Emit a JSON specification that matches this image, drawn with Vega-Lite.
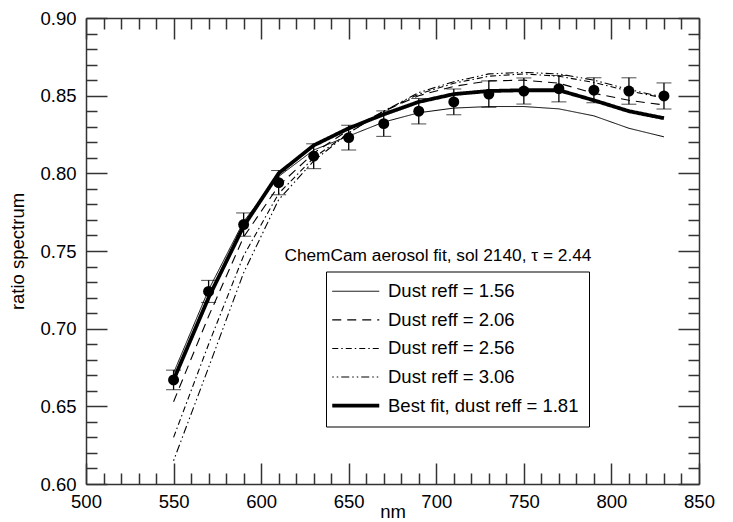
{
  "$schema": "https://vega.github.io/schema/vega-lite/v6.json",
  "width": 613,
  "height": 466,
  "autosize": {"type": "none"},
  "padding": {"left": 86, "top": 18, "right": 34, "bottom": 38},
  "background": "white",
  "config": {
    "view": {"stroke": null},
    "font": "Liberation Sans",
    "axis": {
      "grid": false,
      "domainColor": "#333",
      "domainWidth": 1.5,
      "tickColor": "#333",
      "tickWidth": 1.5,
      "labelFont": "Liberation Sans",
      "labelFontSize": 18.5,
      "labelColor": "black",
      "titleFont": "Liberation Sans",
      "titleFontSize": 18.5,
      "titleFontWeight": "normal",
      "titleColor": "black",
      "labelOverlap": false,
      "labelFlush": false,
      "labelBound": false
    },
    "legend": {
      "orient": "none",
      "legendX": 240,
      "legendY": 253.5,
      "strokeColor": "black",
      "fillColor": "white",
      "padding": 10.5,
      "symbolType": "M-4.7,0H4.7",
      "symbolSize": 100,
      "symbolOffset": 10,
      "symbolStrokeColor": "black",
      "labelFontSize": 18.5,
      "labelFont": "Liberation Sans",
      "labelColor": "black",
      "labelLimit": 400,
      "labelOffset": 23,
      "rowPadding": 9.6
    }
  },
  "title": {
    "text": "ChemCam aerosol fit, sol 2140,  τ = 2.44",
    "anchor": "end",
    "orient": "top",
    "dx": -123,
    "dy": 255,
    "offset": 0,
    "fontSize": 17.3,
    "fontWeight": "normal",
    "font": "Liberation Sans",
    "color": "black"
  },
  "datasets": {
    "curves": [
      {"nm": 550, "ratio": 0.6715, "series": "Dust reff = 1.56"},
      {"nm": 570, "ratio": 0.725, "series": "Dust reff = 1.56"},
      {"nm": 590, "ratio": 0.769, "series": "Dust reff = 1.56"},
      {"nm": 610, "ratio": 0.798, "series": "Dust reff = 1.56"},
      {"nm": 630, "ratio": 0.815, "series": "Dust reff = 1.56"},
      {"nm": 650, "ratio": 0.824, "series": "Dust reff = 1.56"},
      {"nm": 670, "ratio": 0.833, "series": "Dust reff = 1.56"},
      {"nm": 690, "ratio": 0.839, "series": "Dust reff = 1.56"},
      {"nm": 710, "ratio": 0.842, "series": "Dust reff = 1.56"},
      {"nm": 730, "ratio": 0.843, "series": "Dust reff = 1.56"},
      {"nm": 750, "ratio": 0.843, "series": "Dust reff = 1.56"},
      {"nm": 770, "ratio": 0.8415, "series": "Dust reff = 1.56"},
      {"nm": 790, "ratio": 0.837, "series": "Dust reff = 1.56"},
      {"nm": 810, "ratio": 0.829, "series": "Dust reff = 1.56"},
      {"nm": 830, "ratio": 0.8235, "series": "Dust reff = 1.56"},
      {"nm": 550, "ratio": 0.653, "series": "Dust reff = 2.06"},
      {"nm": 570, "ratio": 0.708, "series": "Dust reff = 2.06"},
      {"nm": 590, "ratio": 0.759, "series": "Dust reff = 2.06"},
      {"nm": 610, "ratio": 0.792, "series": "Dust reff = 2.06"},
      {"nm": 630, "ratio": 0.813, "series": "Dust reff = 2.06"},
      {"nm": 650, "ratio": 0.828, "series": "Dust reff = 2.06"},
      {"nm": 670, "ratio": 0.840, "series": "Dust reff = 2.06"},
      {"nm": 690, "ratio": 0.850, "series": "Dust reff = 2.06"},
      {"nm": 710, "ratio": 0.856, "series": "Dust reff = 2.06"},
      {"nm": 730, "ratio": 0.8595, "series": "Dust reff = 2.06"},
      {"nm": 750, "ratio": 0.860, "series": "Dust reff = 2.06"},
      {"nm": 770, "ratio": 0.858, "series": "Dust reff = 2.06"},
      {"nm": 790, "ratio": 0.8515, "series": "Dust reff = 2.06"},
      {"nm": 810, "ratio": 0.847, "series": "Dust reff = 2.06"},
      {"nm": 830, "ratio": 0.844, "series": "Dust reff = 2.06"},
      {"nm": 550, "ratio": 0.630, "series": "Dust reff = 2.56"},
      {"nm": 570, "ratio": 0.690, "series": "Dust reff = 2.56"},
      {"nm": 590, "ratio": 0.747, "series": "Dust reff = 2.56"},
      {"nm": 610, "ratio": 0.787, "series": "Dust reff = 2.56"},
      {"nm": 630, "ratio": 0.810, "series": "Dust reff = 2.56"},
      {"nm": 650, "ratio": 0.826, "series": "Dust reff = 2.56"},
      {"nm": 670, "ratio": 0.840, "series": "Dust reff = 2.56"},
      {"nm": 690, "ratio": 0.851, "series": "Dust reff = 2.56"},
      {"nm": 710, "ratio": 0.858, "series": "Dust reff = 2.56"},
      {"nm": 730, "ratio": 0.8625, "series": "Dust reff = 2.56"},
      {"nm": 750, "ratio": 0.864, "series": "Dust reff = 2.56"},
      {"nm": 770, "ratio": 0.8625, "series": "Dust reff = 2.56"},
      {"nm": 790, "ratio": 0.8585, "series": "Dust reff = 2.56"},
      {"nm": 810, "ratio": 0.853, "series": "Dust reff = 2.56"},
      {"nm": 830, "ratio": 0.8485, "series": "Dust reff = 2.56"},
      {"nm": 550, "ratio": 0.615, "series": "Dust reff = 3.06"},
      {"nm": 570, "ratio": 0.675, "series": "Dust reff = 3.06"},
      {"nm": 590, "ratio": 0.736, "series": "Dust reff = 3.06"},
      {"nm": 610, "ratio": 0.783, "series": "Dust reff = 3.06"},
      {"nm": 630, "ratio": 0.808, "series": "Dust reff = 3.06"},
      {"nm": 650, "ratio": 0.826, "series": "Dust reff = 3.06"},
      {"nm": 670, "ratio": 0.840, "series": "Dust reff = 3.06"},
      {"nm": 690, "ratio": 0.852, "series": "Dust reff = 3.06"},
      {"nm": 710, "ratio": 0.859, "series": "Dust reff = 3.06"},
      {"nm": 730, "ratio": 0.864, "series": "Dust reff = 3.06"},
      {"nm": 750, "ratio": 0.865, "series": "Dust reff = 3.06"},
      {"nm": 770, "ratio": 0.864, "series": "Dust reff = 3.06"},
      {"nm": 790, "ratio": 0.860, "series": "Dust reff = 3.06"},
      {"nm": 810, "ratio": 0.854, "series": "Dust reff = 3.06"},
      {"nm": 830, "ratio": 0.849, "series": "Dust reff = 3.06"},
      {"nm": 550, "ratio": 0.667, "series": "Best fit, dust reff = 1.81"},
      {"nm": 570, "ratio": 0.720, "series": "Best fit, dust reff = 1.81"},
      {"nm": 590, "ratio": 0.766, "series": "Best fit, dust reff = 1.81"},
      {"nm": 610, "ratio": 0.800, "series": "Best fit, dust reff = 1.81"},
      {"nm": 630, "ratio": 0.818, "series": "Best fit, dust reff = 1.81"},
      {"nm": 650, "ratio": 0.829, "series": "Best fit, dust reff = 1.81"},
      {"nm": 670, "ratio": 0.838, "series": "Best fit, dust reff = 1.81"},
      {"nm": 690, "ratio": 0.846, "series": "Best fit, dust reff = 1.81"},
      {"nm": 710, "ratio": 0.851, "series": "Best fit, dust reff = 1.81"},
      {"nm": 730, "ratio": 0.853, "series": "Best fit, dust reff = 1.81"},
      {"nm": 750, "ratio": 0.8535, "series": "Best fit, dust reff = 1.81"},
      {"nm": 770, "ratio": 0.8535, "series": "Best fit, dust reff = 1.81"},
      {"nm": 790, "ratio": 0.847, "series": "Best fit, dust reff = 1.81"},
      {"nm": 810, "ratio": 0.840, "series": "Best fit, dust reff = 1.81"},
      {"nm": 830, "ratio": 0.8355, "series": "Best fit, dust reff = 1.81"}
    ],
    "obs": [
      {"nm": 550, "ratio": 0.667, "lo": 0.6607, "hi": 0.6733},
      {"nm": 570, "ratio": 0.724, "lo": 0.7169, "hi": 0.7311},
      {"nm": 590, "ratio": 0.767, "lo": 0.7595, "hi": 0.7745},
      {"nm": 610, "ratio": 0.794, "lo": 0.7862, "hi": 0.8018},
      {"nm": 630, "ratio": 0.811, "lo": 0.803, "hi": 0.819},
      {"nm": 650, "ratio": 0.823, "lo": 0.815, "hi": 0.831},
      {"nm": 670, "ratio": 0.832, "lo": 0.8238, "hi": 0.8402},
      {"nm": 690, "ratio": 0.840, "lo": 0.8318, "hi": 0.8482},
      {"nm": 710, "ratio": 0.846, "lo": 0.8377, "hi": 0.8543},
      {"nm": 730, "ratio": 0.851, "lo": 0.8425, "hi": 0.8595},
      {"nm": 750, "ratio": 0.853, "lo": 0.8446, "hi": 0.8614},
      {"nm": 770, "ratio": 0.8545, "lo": 0.846, "hi": 0.863},
      {"nm": 790, "ratio": 0.8535, "lo": 0.8455, "hi": 0.8615},
      {"nm": 810, "ratio": 0.853, "lo": 0.8445, "hi": 0.8615},
      {"nm": 830, "ratio": 0.8498, "lo": 0.8414, "hi": 0.8582}
    ]
  },
  "layer": [
    {
      "data": {"name": "curves"},
      "mark": {"type": "line", "color": "black", "strokeCap": "butt"},
      "encoding": {
        "x": {
          "field": "nm", "type": "quantitative",
          "scale": {"domain": [500, 850], "nice": false, "zero": false},
          "axis": {
            "orient": "bottom",
            "title": "nm",
            "titleY": 27,
            "titleBaseline": "middle",
            "values": [500,510,520,530,540,550,560,570,580,590,600,610,620,630,640,650,660,670,680,690,700,710,720,730,740,750,760,770,780,790,800,810,820,830,840,850],
            "labelExpr": "datum.value % 50 === 0 ? format(datum.value, 'd') : ''",
            "tickSize": {"condition": {"test": "datum.value % 50 === 0", "value": -21}, "value": -11},
            "labelPadding": 29
          }
        },
        "y": {
          "field": "ratio", "type": "quantitative",
          "scale": {"domain": [0.6, 0.9], "nice": false, "zero": false},
          "axis": {
            "orient": "left",
            "title": "ratio spectrum",
            "titlePadding": 12,
            "values": [0.6,0.61,0.62,0.63,0.64,0.65,0.66,0.67,0.68,0.69,0.7,0.71,0.72,0.73,0.74,0.75,0.76,0.77,0.78,0.79,0.8,0.81,0.82,0.83,0.84,0.85,0.86,0.87,0.88,0.89,0.9],
            "labelExpr": "abs(datum.value * 20 - round(datum.value * 20)) < 0.001 ? format(datum.value, '.2f') : ''",
            "tickSize": {"condition": {"test": "abs(datum.value * 20 - round(datum.value * 20)) < 0.001", "value": -21}, "value": -11},
            "labelPadding": 31
          }
        },
        "detail": {"field": "series"},
        "strokeDash": {
          "field": "series", "type": "ordinal",
          "scale": {
            "domain": ["Dust reff = 1.56", "Dust reff = 2.06", "Dust reff = 2.56", "Dust reff = 3.06", "Best fit, dust reff = 1.81"],
            "range": [[1, 0], [9, 6], [6, 3, 1.5, 3], [1.5, 3, 1.5, 3, 8, 3], [1, 0]]
          },
          "legend": {"title": null}
        },
        "strokeWidth": {
          "field": "series", "type": "ordinal",
          "scale": {
            "type": "ordinal",
            "domain": ["Dust reff = 1.56", "Dust reff = 2.06", "Dust reff = 2.56", "Dust reff = 3.06", "Best fit, dust reff = 1.81"],
            "range": [1, 1.1, 1.1, 1.1, 3.8]
          },
          "legend": {"title": null}
        }
      }
    },
    {
      "data": {"name": "obs"},
      "mark": {"type": "errorbar", "ticks": {"size": 15, "color": "black", "strokeWidth": 1.3}, "rule": {"color": "black", "strokeWidth": 1.3}},
      "encoding": {
        "x": {
          "field": "nm", "type": "quantitative",
          "axis": {
            "orient": "top",
            "title": null,
            "values": [500,510,520,530,540,550,560,570,580,590,600,610,620,630,640,650,660,670,680,690,700,710,720,730,740,750,760,770,780,790,800,810,820,830,840,850],
            "labels": false,
            "tickSize": {"condition": {"test": "datum.value % 50 === 0", "value": -21}, "value": -11}
          }
        },
        "y": {
          "field": "lo", "type": "quantitative",
          "axis": {
            "orient": "right",
            "title": null,
            "values": [0.6,0.61,0.62,0.63,0.64,0.65,0.66,0.67,0.68,0.69,0.7,0.71,0.72,0.73,0.74,0.75,0.76,0.77,0.78,0.79,0.8,0.81,0.82,0.83,0.84,0.85,0.86,0.87,0.88,0.89,0.9],
            "labels": false,
            "tickSize": {"condition": {"test": "abs(datum.value * 20 - round(datum.value * 20)) < 0.001", "value": -21}, "value": -11}
          }
        },
        "y2": {"field": "hi"}
      }
    },
    {
      "data": {"name": "obs"},
      "mark": {"type": "point", "filled": true, "color": "black", "opacity": 1, "size": 120},
      "encoding": {
        "x": {"field": "nm", "type": "quantitative", "axis": null},
        "y": {"field": "ratio", "type": "quantitative", "axis": null}
      }
    }
  ],
  "resolve": {"axis": {"x": "independent", "y": "independent"}}
}
